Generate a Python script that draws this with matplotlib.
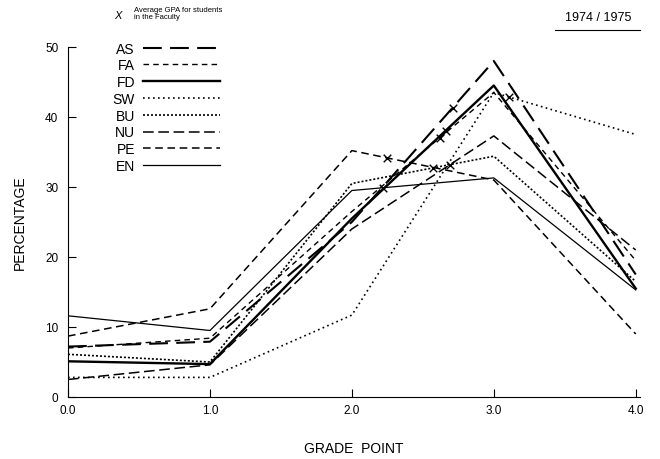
import matplotlib
matplotlib.use('Agg')

import numpy as np
import matplotlib.pyplot as plt

plt.rcParams['font.family'] = ['Liberation Sans', 'DejaVu Sans']

# grade points on the x axis
grade = [0.0, 1.0, 2.0, 3.0, 4.0]

# percentage of students per grade point, by faculty
AS = [7.2, 7.9, 25.0, 48.0, 17.5]
FA = [7.0, 8.4, 26.5, 43.5, 19.5]
FD = [5.1, 4.7, 25.5, 44.5, 15.5]
SW = [2.8, 2.8, 11.7, 43.5, 37.5]
BU = [6.1, 5.0, 30.5, 34.4, 16.5]
NU = [2.5, 4.6, 24.0, 37.3, 21.0]
PE = [8.7, 12.6, 35.2, 31.0, 9.0]
EN = [11.6, 9.5, 29.5, 31.3, 15.3]

faculties = ['AS', 'FA', 'FD', 'SW', 'BU', 'NU', 'PE', 'EN']
series = [AS, FA, FD, SW, BU, NU, PE, EN]

# average GPA of each faculty (the X marks)
avg_gpa = [2.71, 2.62, 2.66, 3.11, 2.57, 2.69, 2.25, 2.22]

x_ticks = ['0.0', '1.0', '2.0', '3.0', '4.0']
y_ticks = [0, 10, 20, 30, 40, 50]

# line look for each faculty
styles = {
    'AS': dict(dashes=(9, 4), lw=1.5),
    'FA': dict(dashes=(4, 3), lw=1.0),
    'FD': dict(linestyle='-', lw=1.7),
    'SW': dict(dashes=(1, 2), lw=1.2),
    'BU': dict(dashes=(1.2, 1.2), lw=1.2),
    'NU': dict(dashes=(7, 3), lw=1.1),
    'PE': dict(dashes=(5, 3), lw=1.1),
    'EN': dict(linestyle='-', lw=0.9),
}

fig = plt.figure(figsize=(6.6, 4.6), dpi=100)
ax = fig.add_axes([68 / 660, 1 - 398 / 460, 572 / 660, 350 / 460])

for name, vals, g in zip(faculties, series, avg_gpa):
    ax.plot(grade, vals, color='black', label=name, **styles[name])
    ax.scatter([g], [np.interp(g, grade, vals)], marker='x', color='black',
               s=30, linewidths=1.0, zorder=5)

ax.set_xlim(0, 4.03)
ax.set_ylim(0, 50)
ax.set_xticks(grade)
ax.set_xticklabels(x_ticks)
ax.set_yticks(y_ticks)
ax.tick_params(direction='in', length=6, labelsize=8.5, width=0.8)
ax.tick_params(axis='x', pad=5)
ax.tick_params(axis='y', pad=7)
ax.spines['top'].set_visible(False)
ax.spines['right'].set_visible(False)

ax.set_xlabel('GRADE  POINT', fontsize=10, labelpad=18)
ax.set_ylabel('PERCENTAGE', fontsize=10, labelpad=13)

leg = ax.legend(loc='upper left', bbox_to_anchor=(100 / 660, 1 - 30 / 460),
                bbox_transform=fig.transFigure, frameon=False, markerfirst=False,
                fontsize=10, handlelength=5.5, labelspacing=0.2, handletextpad=0.6)

# header notes
fig.text(118 / 660, 1 - 16 / 460, 'X', fontsize=8, ha='center', va='center', style='italic')
fig.text(134 / 660, 1 - 14 / 460, 'Average GPA for students\nin the Faculty',
         fontsize=5.5, ha='left', va='center', linespacing=1.1)
fig.text(598 / 660, 1 - 18 / 460, '1974 / 1975', fontsize=9, ha='center', va='center')
fig.add_artist(plt.Line2D([555 / 660, 640 / 660], [1 - 31 / 460, 1 - 31 / 460],
                          color='black', lw=0.8))

fig.savefig('out.png', dpi=100)
